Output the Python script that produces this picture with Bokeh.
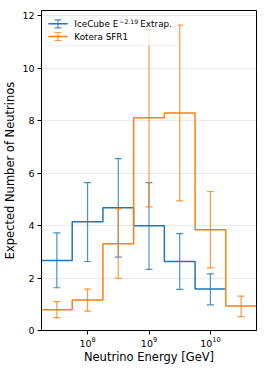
from bokeh.plotting import figure
from bokeh.models import (Range1d, FixedTicker, BoxAnnotation, Label, Arrow, TeeHead)
from bokeh.embed import file_html
from bokeh.resources import INLINE

# ---- data (log10 of energy in GeV) ----
bin_edges_log = [7.25, 7.75, 8.25, 8.75, 9.25, 9.75, 10.25, 10.75]
bin_centers_log = [7.5, 8.0, 8.5, 9.0, 9.5, 10.0, 10.5]

icecube_values = [2.67, 4.15, 4.68, 3.99, 2.63, 1.58]
icecube_upper = [3.72, 5.64, 6.55, 5.64, 3.69, 2.16]
icecube_lower = [1.63, 2.63, 2.80, 2.33, 1.57, 0.98]

kotera_values = [0.79, 1.16, 3.31, 8.11, 8.29, 3.84, 0.93]
kotera_upper = [1.10, 1.58, 4.64, 11.47, 11.64, 5.30, 1.31]
kotera_lower = [0.49, 0.74, 1.99, 4.71, 4.94, 2.39, 0.53]

x_ticks = [1e8, 1e9, 1e10]
y_ticks = [0, 2, 4, 6, 8, 10, 12]

BLUE = "#1f77b4"
ORANGE = "#ff7f0e"
FONT = "DejaVu Sans"

p = figure(x_axis_type="log",
           x_range=Range1d(10 ** bin_edges_log[0], 10 ** bin_edges_log[-1]),
           y_range=Range1d(0, 12.2),
           frame_width=215, frame_height=320,
           min_border_left=40, min_border_right=10, min_border_top=10, min_border_bottom=38,
           output_backend="svg", toolbar_location=None)
p.background_fill_color = "white"
p.border_fill_color = "white"
p.outline_line_color = "black"
p.outline_line_width = 1
p.outline_line_alpha = 1


def draw_series(values, upper, lower, n, color):
    edges = [10 ** e for e in bin_edges_log[:n + 1]]
    ys = list(values) + [values[-1]]
    p.step(x=edges, y=ys, mode="after", line_color=color, line_width=1.5)
    xs = [10 ** c for c in bin_centers_log[:n]]
    p.segment(x0=xs, y0=lower, x1=xs, y1=upper, line_color=color,
              line_width=1.2, line_alpha=0.8)
    p.scatter(x=xs, y=upper, marker="dash", size=7, line_color=color,
              line_width=1.2, line_alpha=0.8)
    p.scatter(x=xs, y=lower, marker="dash", size=7, line_color=color,
              line_width=1.2, line_alpha=0.8)


draw_series(icecube_values, icecube_upper, icecube_lower, len(icecube_values), BLUE)
draw_series(kotera_values, kotera_upper, kotera_lower, len(kotera_values), ORANGE)

# axes
p.xaxis.ticker = FixedTicker(ticks=x_ticks, minor_ticks=[])
p.yaxis.ticker = FixedTicker(ticks=y_ticks, minor_ticks=[])
for ax in (p.xaxis, p.yaxis):
    ax.major_tick_out = 4
    ax.major_tick_in = 0
    ax.minor_tick_out = 0
    ax.minor_tick_in = 0
    ax.major_tick_line_color = "black"
    ax.axis_line_color = "black"
    ax.major_label_text_color = "black"
    ax.major_label_text_font = FONT
    ax.major_label_text_font_size = "9.5px"
    ax.axis_label_text_font = FONT
    ax.axis_label_text_font_size = "11.5px"
    ax.axis_label_text_font_style = "normal"
    ax.axis_label_text_color = "black"
p.xaxis.major_label_standoff = 2
p.yaxis.major_label_standoff = 3
p.xaxis.axis_label_standoff = 0
p.yaxis.axis_label_standoff = 2
p.xaxis.axis_label = "Neutrino Energy [GeV]"
p.yaxis.axis_label = "Expected Number of Neutrinos"

p.xgrid.grid_line_color = None
p.ygrid.grid_line_color = "#b0b0b0"
p.ygrid.grid_line_dash = "1 1"
p.ygrid.grid_line_alpha = 0.7
p.ygrid.grid_line_width = 0.8

# legend (manual, screen units relative to the frame)
p.add_layout(BoxAnnotation(left=4.5, right=136.5, top=315, bottom=285,
                           left_units="screen", right_units="screen",
                           top_units="screen", bottom_units="screen",
                           fill_color="white", fill_alpha=0.8,
                           line_color="#cccccc", line_width=1, border_radius=2))

for yc, color in ((306.7, BLUE), (294.0, ORANGE)):
    p.add_layout(Arrow(x_start=6.8, y_start=yc, x_end=26.2, y_end=yc,
                       start_units="screen", end_units="screen", start=None, end=None,
                       line_color=color, line_width=1.5))
    p.add_layout(Arrow(x_start=16.5, y_start=yc - 4, x_end=16.5, y_end=yc + 4,
                       start_units="screen", end_units="screen",
                       start=TeeHead(size=7, line_color=color, line_width=1.2, line_alpha=0.8),
                       end=TeeHead(size=7, line_color=color, line_width=1.2, line_alpha=0.8),
                       line_color=color, line_width=1.2, line_alpha=0.8))


def legend_text(x, y, text, size):
    p.add_layout(Label(x=x, y=y, x_units="screen", y_units="screen", text=text,
                       text_font=FONT, text_font_size=size, text_color="black",
                       text_baseline="middle", text_align="left"))


legend_text(32.8, 306.7, "IceCube E", "8.8px")
legend_text(77.7, 309.3, "\u22122.19", "6.2px")
legend_text(98.8, 306.7, "Extrap.", "8.8px")
legend_text(32.8, 294.0, "Kotera SFR1", "8.8px")

open("out.html", "w").write(file_html(p, INLINE))
